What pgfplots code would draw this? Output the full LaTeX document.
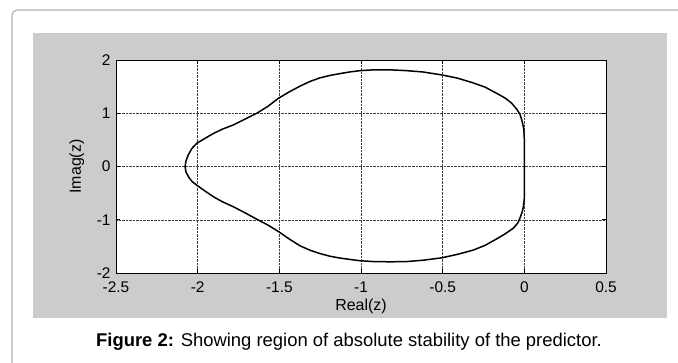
\documentclass[border=0pt]{standalone}
\usepackage{pgfplots}
\pgfplotsset{compat=1.18}
\usepackage{fontspec}
\setmainfont{Liberation Sans}
\begin{document}
\begin{tikzpicture}[x=1bp,y=1bp]
\path[use as bounding box] (0,0) rectangle (678,362);
\draw[line width=1.2bp, black!30, rounded corners=6bp] (12,-30) rectangle (720,352);
\fill[black!20] (33,44) rectangle (667,329);
\begin{axis}[
  at={(116bp,89bp)}, anchor=south west, scale only axis,
  width=490bp, height=213bp,
  xmin=-2.5, xmax=0.5, ymin=-2, ymax=2,
  xtick={-2.5,-2,-1.5,-1,-0.5,0,0.5},
  ytick={-2,-1,0,1,2},
  grid=major,
  grid style={densely dotted, black!75, line width=0.5bp},
  tick align=inside, major tick length=4bp,
  tick style={black, line width=0.6bp},
  axis line style={line width=1bp},
  axis background/.style={fill=white},
  /pgf/number format/assume math mode=true,
  ticklabel style={font=\fontsize{15.5}{16}\selectfont, inner sep=0pt},
  xticklabel style={yshift=-8.5bp},
  yticklabel style={xshift=-5.3bp},
  xlabel={Real(z)}, ylabel={Imag(z)},
  label style={font=\fontsize{16}{17}\selectfont},
  xlabel style={at={(axis description cs:0.5,-0.155)}, anchor=center},
  ylabel style={at={(axis description cs:-0.08,0.5)}, anchor=center, rotate=0},
]
\addplot[black, line width=1.5bp] coordinates {
(0,0) (0,0.5) (-0.003,0.7) (-0.01,0.8) (-0.018,0.9) (-0.027,0.98) (-0.045,1.07) (-0.078,1.19)
(-0.12,1.29) (-0.17,1.375) (-0.24,1.49) (-0.313,1.57) (-0.41,1.66) (-0.506,1.72) (-0.62,1.775) (-0.72,1.80)
(-0.82,1.815) (-0.924,1.815) (-1.006,1.80) (-1.07,1.775) (-1.128,1.745) (-1.19,1.71) (-1.251,1.665) (-1.31,1.60)
(-1.373,1.51) (-1.44,1.40) (-1.506,1.28) (-1.57,1.13)
(-1.638,1.0) (-1.71,0.89) (-1.782,0.78) (-1.85,0.70) (-1.904,0.62) (-1.96,0.52) (-2.006,0.435) (-2.035,0.34) (-2.058,0.216)
(-2.072,0.1) (-2.077,0) (-2.072,-0.1) (-2.055,-0.2) (-2.035,-0.28) (-2.006,-0.35) (-1.96,-0.45)
(-1.904,-0.567) (-1.85,-0.66) (-1.782,-0.755) (-1.71,-0.87) (-1.638,-0.99) (-1.57,-1.10) (-1.506,-1.22) (-1.44,-1.36) (-1.373,-1.49)
(-1.31,-1.575) (-1.251,-1.635) (-1.19,-1.685) (-1.128,-1.72) (-1.006,-1.77) (-0.924,-1.785) (-0.82,-1.79) (-0.72,-1.785) (-0.62,-1.76) (-0.506,-1.715)
(-0.41,-1.65) (-0.313,-1.57) (-0.24,-1.48) (-0.17,-1.36) (-0.12,-1.27) (-0.068,-1.16) (-0.04,-1.06) (-0.027,-0.97) (-0.015,-0.87) (-0.006,-0.76)
(0,-0.6) (0,0)
};
\end{axis}
\node[font=\fontsize{18.5}{19}\selectfont] at (349,20) {\textbf{Figure 2:} Showing region of absolute stability of the predictor.};
\end{tikzpicture}
\end{document}
